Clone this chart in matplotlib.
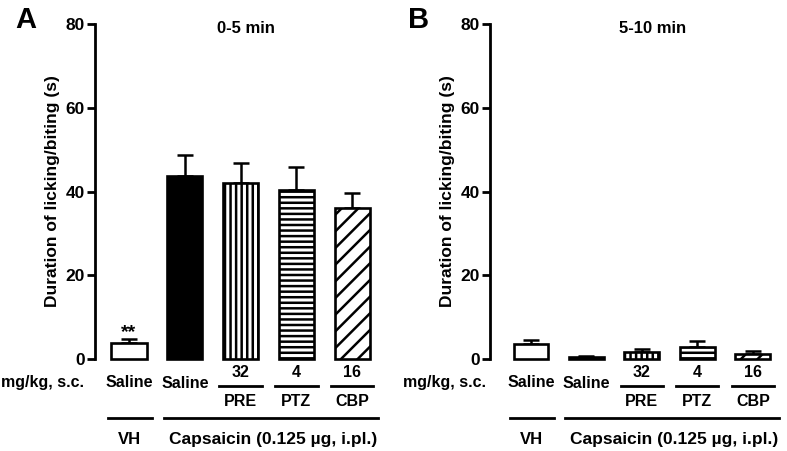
import matplotlib
matplotlib.use('Agg')
import matplotlib.pyplot as plt

plt.rcParams['font.family'] = ['Liberation Sans', 'DejaVu Sans']
plt.rcParams['font.weight'] = 'bold'
plt.rcParams['hatch.linewidth'] = 1.8

# data
treatments = ['Saline', 'Saline', 'PRE', 'PTZ', 'CBP']
doses = ['', '', '32', '4', '16']
mean_0_5 = [3.8, 43.7, 42.0, 40.3, 36.0]
sem_0_5 = [0.9, 5.1, 4.9, 5.5, 3.7]
mean_5_10 = [3.7, 0.5, 1.6, 2.9, 1.3]
sem_5_10 = [0.8, 0.2, 0.7, 1.5, 0.6]
yticks = [0, 20, 40, 60, 80]

faces = ['white', 'black', 'white', 'white', 'white']
hatches = [None, None, '|||', '---', '//']


def draw_panel(ax, means, sems, title, letter, title_x, letter_x, stars=False):
    x = list(range(len(means)))
    ax.errorbar(x, means, yerr=[[0] * len(sems), sems], fmt='none', ecolor='black',
                elinewidth=1.8, capsize=5.5, capthick=1.8, zorder=1, clip_on=False)
    for i in x:
        ax.bar(i, means[i], width=0.63, color=faces[i], edgecolor='black',
               linewidth=1.9, hatch=hatches[i], zorder=2, clip_on=False)

    ax.set_ylim(0, 80)
    ax.set_yticks(yticks)
    ax.tick_params(axis='y', direction='out', length=5.5, width=2, labelsize=12.5, pad=2)
    ax.tick_params(axis='x', bottom=False, labelbottom=False)
    for s in ['top', 'right', 'bottom']:
        ax.spines[s].set_visible(False)
    ax.spines['left'].set_linewidth(2)
    ax.set_ylabel('Duration of licking/biting (s)', fontsize=12.5, fontweight='bold', labelpad=4)

    ax.text(title_x, 79.0, title, ha='center', va='center', fontsize=12, fontweight='bold')
    if stars:
        ax.text(0, 6.3, '**', ha='center', va='center', fontsize=14, fontweight='bold')

    # labels under the bars
    ax.text(-1.56, -5.7, 'mg/kg, s.c.', ha='center', va='center', fontsize=11.5)
    ax.text(0, -5.6, treatments[0], ha='center', va='center', fontsize=11.5)
    ax.text(1, -5.9, treatments[1], ha='center', va='center', fontsize=11.5)
    for i in range(2, 5):
        ax.text(i, -3.3, doses[i], ha='center', va='center', fontsize=11.5)
        ax.plot([i - 0.38, i + 0.38], [-6.5, -6.5], color='black', lw=2, clip_on=False)
        ax.text(i, -10.2, treatments[i], ha='center', va='center', fontsize=11.5)

    ax.plot([-0.38, 0.41], [-14.0, -14.0], color='black', lw=2, clip_on=False)
    ax.plot([0.62, 4.47], [-14.0, -14.0], color='black', lw=2, clip_on=False)
    ax.text(0, -19.2, 'VH', ha='center', va='center', fontsize=12)
    ax.text(2.58, -19.2, 'Capsaicin (0.125 µg, i.pl.)', ha='center', va='center', fontsize=12.5)

    ax.text(letter_x, 1.013, letter, transform=ax.transAxes, fontsize=21,
            fontweight='bold', ha='center', va='center')


fig = plt.figure(figsize=(7.87, 4.51), dpi=100)
ax_a = fig.add_axes([95 / 787, 92 / 451, 290 / 787, 335 / 451])
ax_b = fig.add_axes([490 / 787, 92 / 451, 290 / 787, 335 / 451])

draw_panel(ax_a, mean_0_5, sem_0_5, '0-5 min', 'A', 2.1, -0.238, stars=True)
ax_a.set_xlim(-0.61, 4.59)

draw_panel(ax_b, mean_5_10, sem_5_10, '5-10 min', 'B', 2.2, -0.248)
ax_b.set_xlim(-0.74, 4.49)

fig.savefig('out.png', dpi=100)
